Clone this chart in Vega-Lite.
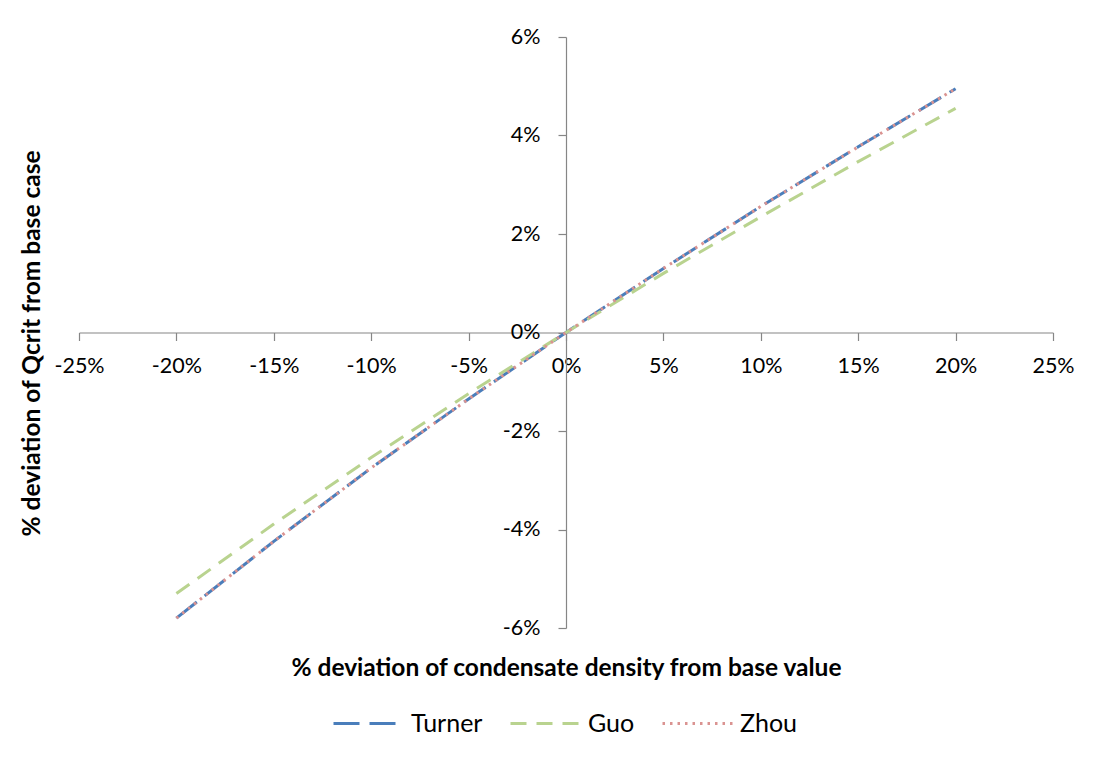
{
  "$schema": "https://vega.github.io/schema/vega-lite/v6.json",
  "autosize": "none",
  "width": 974,
  "height": 591,
  "padding": {"left": 79, "top": 37, "right": 47, "bottom": 130},
  "background": "white",
  "config": {
    "view": {"stroke": null},
    "font": "Lato",
    "axis": {"grid": false, "domainColor": "#868686", "tickColor": "#868686", "domainWidth": 1.2, "tickWidth": 1.2, "labelColor": "#000000", "titleColor": "#000000", "labelFont": "Lato", "titleFont": "Lato"},
    "legend": {"labelFont": "Lato"}
  },
  "data": {
    "values": [
      {"model": "Turner", "x": -20, "y": -5.8},
      {"model": "Turner", "x": -15, "y": -4.24},
      {"model": "Turner", "x": -10, "y": -2.75},
      {"model": "Turner", "x": -5, "y": -1.35},
      {"model": "Turner", "x": 0, "y": 0},
      {"model": "Turner", "x": 5, "y": 1.3},
      {"model": "Turner", "x": 10, "y": 2.56},
      {"model": "Turner", "x": 15, "y": 3.77},
      {"model": "Turner", "x": 20, "y": 4.95},
      {"model": "Guo", "x": -20, "y": -5.3},
      {"model": "Guo", "x": -15, "y": -3.89},
      {"model": "Guo", "x": -10, "y": -2.54},
      {"model": "Guo", "x": -5, "y": -1.24},
      {"model": "Guo", "x": 0, "y": 0},
      {"model": "Guo", "x": 5, "y": 1.2},
      {"model": "Guo", "x": 10, "y": 2.35},
      {"model": "Guo", "x": 15, "y": 3.47},
      {"model": "Guo", "x": 20, "y": 4.55},
      {"model": "Zhou", "x": -20, "y": -5.8},
      {"model": "Zhou", "x": -15, "y": -4.24},
      {"model": "Zhou", "x": -10, "y": -2.75},
      {"model": "Zhou", "x": -5, "y": -1.35},
      {"model": "Zhou", "x": 0, "y": 0},
      {"model": "Zhou", "x": 5, "y": 1.3},
      {"model": "Zhou", "x": 10, "y": 2.56},
      {"model": "Zhou", "x": 15, "y": 3.77},
      {"model": "Zhou", "x": 20, "y": 4.95}
    ]
  },
  "mark": {"type": "line", "strokeWidth": 3, "strokeCap": "butt"},
  "encoding": {
    "x": {
      "field": "x", "type": "quantitative",
      "scale": {"domain": [-25, 25], "nice": false, "zero": false},
      "axis": {
        "orient": "bottom", "offset": -295.5,
        "values": [-25, -20, -15, -10, -5, 0, 5, 10, 15, 20, 25],
        "labelExpr": "datum.value + '%'",
        "tickSize": 8, "labelPadding": 15, "labelFontSize": 21.5, "labelFlush": false, "labelOverlap": false,
        "title": "% deviation of condensate density from base value",
        "titleFontSize": 24.5, "titleFontWeight": "bold", "titleY": 335.5, "titleBaseline": "middle"
      }
    },
    "y": {
      "field": "y", "type": "quantitative",
      "scale": {"domain": [-6, 6], "nice": false, "zero": false},
      "axis": {
        "orient": "left", "offset": -487,
        "values": [-6, -4, -2, 0, 2, 4, 6],
        "labelExpr": "datum.value + '%'",
        "tickSize": 8, "labelPadding": 18, "labelFontSize": 21.5, "labelFlush": false, "labelOverlap": false,
        "title": "% deviation of Qcrit from base case",
        "titleFontSize": 24.5, "titleFontWeight": "bold", "titleAngle": -90,
        "titleX": -534, "titleY": 306, "titleAlign": "center", "titleBaseline": "middle"
      }
    },
    "color": {
      "field": "model", "type": "nominal",
      "scale": {"domain": ["Turner", "Guo", "Zhou"], "range": ["#4A7EBB", "#B9D38F", "#DA9391"]},
      "legend": {
        "title": null, "orient": "none", "direction": "horizontal", "gridAlign": "none",
        "legendX": 253, "legendY": 650,
        "symbolType": "stroke", "symbolSize": 4900, "symbolStrokeWidth": 3,
        "labelFontSize": 25, "labelOffset": 6, "columnPadding": 21, "labelLimit": 200
      }
    },
    "strokeDash": {
      "field": "model", "type": "nominal",
      "scale": {"domain": ["Turner", "Guo", "Zhou"], "range": [[26, 10], [16, 10], [2.5, 5]]},
      "legend": {
        "title": null, "orient": "none", "direction": "horizontal", "gridAlign": "none",
        "legendX": 253, "legendY": 650,
        "symbolType": "stroke", "symbolSize": 4900, "symbolStrokeWidth": 3,
        "labelFontSize": 25, "labelOffset": 6, "columnPadding": 21, "labelLimit": 200
      }
    },
    "order": {"field": "model", "sort": "descending"}
  }
}
